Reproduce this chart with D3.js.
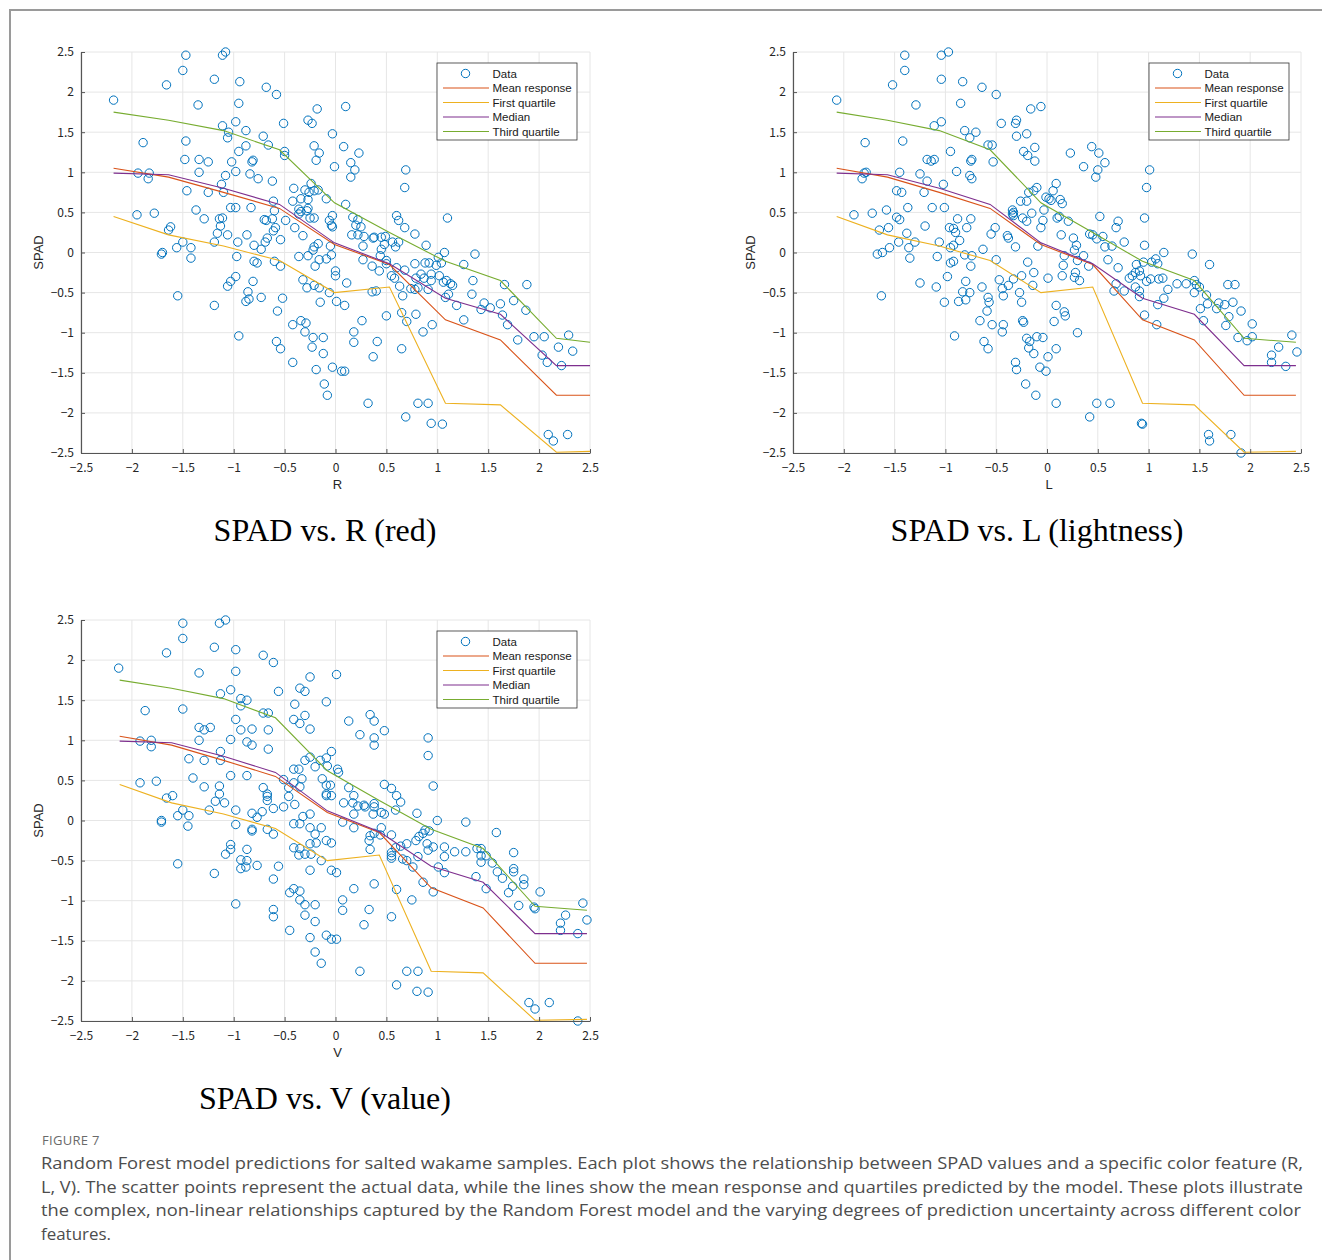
<!DOCTYPE html>
<html>
<head>
<meta charset="utf-8">
<script src="https://cdn.jsdelivr.net/npm/d3@7"></script>
<style>
  html, body { margin: 0; padding: 0; background: #fff; }
  svg { display: block; }
</style>
</head>
<body>
<script>
// ---- data ----
const ticks = [-2.5, -2, -1.5, -1, -0.5, 0, 0.5, 1, 1.5, 2, 2.5]
const seriesNames = ['Mean response', 'First quartile', 'Median', 'Third quartile']
const seriesColors = ['#D95319', '#EDB120', '#7E2F8E', '#77AC30']

// model curves, same response values in all three plots
const meanResponse = [1.05, 0.94, 0.75, 0.55, 0.10, -0.15, -0.84, -1.09, -1.78, -1.78]
const firstQuartile = [0.45, 0.22, 0.08, -0.10, -0.50, -0.43, -1.88, -1.90, -2.49, -2.48]
const median = [0.99, 0.97, 0.80, 0.60, 0.12, -0.14, -0.57, -0.77, -1.41, -1.41]
const thirdQuartile = [1.75, 1.65, 1.52, 1.28, 0.62, 0.25, -0.11, -0.35, -1.07, -1.12]

// x positions of the curve points in each plot
const rGrid = [-2.18, -1.64, -1.10, -0.55, -0.01, 0.53, 1.08, 1.62, 2.17, 2.5]
const lGrid = [-2.07, -1.57, -1.06, -0.56, -0.06, 0.45, 0.94, 1.45, 1.94, 2.45]
const vGrid = [-2.12, -1.61, -1.10, -0.59, -0.08, 0.43, 0.94, 1.45, 1.96, 2.47]

// scatter data [x, SPAD]
const rPoints = [
  [-2.18,1.90],[-1.47,2.46],[-1.11,2.46],[-1.08,2.50],[-1.50,2.27],[-1.66,2.09],[-1.19,2.16],[-0.94,2.13],[-0.68,2.06],[-0.58,1.97],
  [-1.35,1.84],[-0.95,1.86],[-0.18,1.79],[-0.27,1.65],[-0.23,1.61],[-0.51,1.61],[-1.11,1.58],[-0.98,1.63],[-1.05,1.50],[-1.06,1.43],
  [-0.88,1.52],[-0.71,1.45],[-0.66,1.34],[-0.50,1.26],[-0.50,1.21],[-0.03,1.48],[-0.21,1.33],[-0.16,1.24],[-0.19,1.15],[-0.01,1.07],
  [-1.89,1.37],[-1.47,1.39],[-1.48,1.16],[-1.34,1.16],[-1.25,1.13],[-1.34,1.00],[-1.02,1.13],[-0.98,1.01],[-0.95,1.26],[-0.88,1.33],
  [-0.82,1.13],[-0.81,1.15],[-0.84,0.98],[-0.76,0.92],[-0.62,0.89],[-1.08,0.96],[-1.12,0.85],[-1.10,0.75],[-1.94,0.99],[-1.83,0.99],
  [-1.84,0.92],[-1.46,0.77],[-1.25,0.75],[-1.37,0.53],[-1.29,0.42],[-1.95,0.47],[-1.78,0.49],[-1.64,0.28],[-1.62,0.32],[-1.71,-0.02],
  [-1.70,0.00],[-1.56,0.06],[-1.50,0.13],[-1.42,0.06],[-1.42,-0.07],[-1.55,-0.54],[-1.14,0.42],[-1.11,0.43],[-1.13,0.33],[-1.16,0.24],
  [-1.19,0.13],[-1.06,0.22],[-1.03,0.56],[-0.98,0.56],[-0.83,0.56],[-0.61,0.64],[-0.60,0.52],[-0.62,0.42],[-0.68,0.40],[-0.70,0.41],
  [-0.59,0.31],[-0.61,0.27],[-0.67,0.18],[-0.69,0.13],[-0.54,0.16],[-0.49,0.40],[-0.87,0.22],[-0.96,0.13],[-0.80,0.09],[-0.73,0.04],
  [-0.97,-0.05],[-0.80,-0.11],[-0.77,-0.13],[-0.60,-0.11],[-0.54,-0.17],[-0.98,-0.30],[-1.03,-0.36],[-1.06,-0.42],[-0.81,-0.36],[-0.86,-0.49],
  [-0.85,-0.58],[-0.88,-0.61],[-0.73,-0.56],[-0.52,-0.57],[-1.19,-0.66],[-0.95,-1.04],[-0.57,-0.73],[-0.42,-0.90],[-0.34,-0.85],[-0.29,-0.88],
  [-0.30,-0.99],[-0.22,-1.06],[-0.23,-1.18],[-0.12,-1.06],[-0.12,-1.26],[-0.58,-1.11],[-0.54,-1.20],[-0.42,-1.37],[-0.19,-1.46],[-0.03,-1.43],
  [-0.11,-1.64],[-0.08,-1.78],[-0.41,0.80],[-0.30,0.78],[-0.26,0.75],[-0.27,0.66],[-0.34,0.67],[-0.24,0.86],[-0.21,0.77],[-0.17,0.78],
  [-0.42,0.64],[-0.36,0.54],[-0.34,0.51],[-0.36,0.48],[-0.27,0.55],[-0.28,0.52],[-0.25,0.43],[-0.21,0.43],[-0.09,0.67],[-0.06,0.40],
  [-0.03,0.46],[-0.03,0.32],[-0.04,0.34],[-0.40,0.31],[-0.32,0.21],[-0.21,0.07],[-0.17,0.11],[-0.22,0.03],[-0.20,-0.17],[-0.16,-0.09],
  [-0.09,-0.08],[-0.04,-0.03],[-0.36,-0.05],[-0.27,-0.04],[-0.05,0.08],[-0.32,-0.34],[-0.28,-0.44],[-0.21,-0.41],[-0.16,-0.44],[-0.06,-0.50],
  [-0.15,-0.62],[0.00,-0.23],[0.00,-0.29],[0.01,-0.61],
  [0.10,1.82],[0.08,1.32],[0.15,1.12],[0.19,1.03],[0.15,0.94],[0.23,1.24],[0.10,0.60],[0.69,1.03],[0.68,0.81],[1.10,0.43],
  [0.60,0.46],[0.62,0.40],[0.68,0.31],[0.78,0.23],[0.89,0.09],[1.01,-0.06],[1.07,0.00],[1.04,-0.13],[1.26,-0.15],[1.37,-0.02],
  [1.35,-0.35],[1.34,-0.52],[1.66,-0.40],[1.88,-0.40],[1.75,-0.60],[1.64,-0.78],[1.69,-0.90],[1.87,-0.72],[1.79,-1.09],[1.95,-1.05],
  [2.05,-1.05],[2.19,-1.18],[2.29,-1.03],[2.33,-1.23],[2.03,-1.28],[2.08,-1.37],[2.22,-1.41],[1.46,-0.63],[1.52,-0.69],[1.43,-0.71],
  [1.62,-0.64],[1.19,-0.66],[1.26,-0.84],[2.09,-2.27],[2.14,-2.35],[2.28,-2.27],[0.32,-1.88],[0.81,-1.88],[0.91,-1.88],[0.69,-2.05],
  [0.94,-2.13],[1.05,-2.14],[0.06,-1.48],[0.09,-1.48],[0.37,-1.30],[0.26,-0.85],[0.18,-0.99],[0.18,-1.12],[0.41,-1.11],[0.65,-1.20],
  [0.50,-0.79],[0.65,-0.75],[0.70,-0.86],[0.79,-0.77],[0.86,-0.99],[0.95,-0.90],[0.17,0.44],[0.22,0.41],[0.20,0.34],[0.25,0.32],
  [0.16,0.22],[0.22,0.22],[0.28,0.20],[0.27,0.08],[0.37,0.18],[0.38,0.19],[0.45,0.19],[0.49,0.20],[0.45,0.04],[0.48,0.10],
  [0.44,-0.04],[0.50,-0.10],[0.43,-0.23],[0.56,0.13],[0.59,0.07],[0.62,0.13],[0.27,-0.09],[0.36,-0.17],[0.11,-0.38],[0.09,-0.66],
  [0.50,-0.14],[0.55,-0.29],[0.58,-0.32],[0.63,-0.42],[0.66,-0.54],[0.68,-0.22],[0.78,-0.14],[0.79,-0.32],[0.74,-0.45],[0.78,-0.46],
  [0.81,-0.44],[0.88,-0.13],[0.92,-0.13],[0.94,-0.27],[0.99,-0.16],[0.94,-0.35],[0.91,-0.46],[1.02,-0.29],[1.06,-0.37],[1.09,-0.35],
  [1.13,-0.39],[1.15,-0.41],[1.08,-0.56],[1.11,-0.52],[0.84,-0.27],[0.87,-0.32],[0.60,-0.19],[0.36,-0.49],[0.40,-0.48]
]

const lPoints = [
  [-2.07,1.90],[-1.40,2.46],[-1.40,2.27],[-1.04,2.46],[-0.97,2.50],[-1.52,2.09],[-1.04,2.16],[-0.83,2.13],[-0.64,2.06],[-0.50,1.97],
  [-1.29,1.84],[-0.85,1.86],[-0.16,1.79],[-0.06,1.82],[-0.31,1.61],[-0.30,1.65],[-0.45,1.61],[-1.04,1.63],[-1.11,1.58],[-0.81,1.52],
  [-0.70,1.50],[-0.76,1.43],[-0.58,1.34],[-0.54,1.34],[-0.53,1.13],[-0.30,1.45],[-0.20,1.48],[-0.23,1.26],[-0.19,1.21],[-0.12,1.31],
  [-0.12,1.14],[-0.95,1.26],[-0.75,1.14],[-0.74,1.16],[-0.76,0.96],[-0.74,0.92],[-0.89,1.01],[-1.79,1.37],[-1.42,1.39],[-1.18,1.16],
  [-1.14,1.14],[-1.11,1.16],[-1.25,0.98],[-1.02,0.85],[-1.18,0.89],[-1.78,1.00],[-1.80,0.99],[-1.82,0.92],[-1.45,1.00],[-1.48,0.77],
  [-1.43,0.75],[-1.21,0.75],[-1.37,0.56],[-1.13,0.56],[-1.01,0.56],[-1.58,0.53],[-1.90,0.47],[-1.72,0.49],[-1.48,0.44],[-1.45,0.41],
  [-1.65,0.28],[-1.56,0.31],[-1.67,-0.02],[-1.62,0.00],[-1.55,0.06],[-1.46,0.13],[-1.36,0.06],[-1.35,-0.07],[-1.38,0.24],[-1.30,0.13],
  [-1.20,0.33],[-1.63,-0.54],[-1.25,-0.38],[-1.09,-0.43],[-1.08,-0.05],[-1.06,0.13],[-1.01,-0.62],[-0.96,0.31],[-0.92,0.30],[-0.90,0.25],
  [-0.86,0.15],[-0.88,0.42],[-0.95,0.06],[-0.92,0.09],[-0.95,-0.13],[-0.92,-0.11],[-0.98,-0.30],[-0.79,0.31],[-0.75,0.42],[-0.81,-0.03],
  [-0.74,-0.04],[-0.75,-0.17],[-0.80,-0.36],[-0.83,-0.49],[-0.76,-0.50],[-0.80,-0.59],[-0.87,-0.61],[-0.63,0.04],[-0.64,-0.43],[-0.58,-0.56],
  [-0.57,-0.62],[-0.59,-0.73],[-0.66,-0.85],[-0.91,-1.04],[-0.54,-0.90],[-0.43,-0.90],[-0.44,-0.99],[-0.62,-1.11],[-0.58,-1.20],[-0.55,0.23],
  [-0.51,0.31],[-0.50,-0.09],[-0.47,-0.34],[-0.43,-0.54],[-0.44,-0.45],[-0.39,0.21],[-0.38,0.18],[-0.31,0.07],[-0.38,-0.41],[-0.33,-0.33],
  [-0.27,-0.50],[-0.25,-0.62],[-0.25,-0.29],[-0.19,-0.12],[-0.13,-0.25],[-0.14,-0.41],[-0.24,-0.85],[-0.23,-0.87],[-0.20,-1.07],[-0.17,-1.11],
  [-0.18,-1.19],[-0.10,-1.05],[-0.13,-1.26],[-0.31,-1.37],[-0.30,-1.46],[-0.21,-1.64],[-0.11,-1.78],[-0.07,-1.43],[-0.01,-1.48],[0.01,-1.30],
  [-0.34,0.53],[-0.33,0.50],[-0.33,0.46],[-0.34,0.48],[-0.26,0.64],[-0.20,0.64],[-0.18,0.75],[-0.13,0.77],[-0.10,0.81],[-0.24,0.43],
  [-0.20,0.39],[-0.15,0.49],[-0.06,0.31],[-0.04,0.40],[-0.03,0.53],[-0.01,0.69],[-0.09,0.08],[0.01,-0.32],
  [0.23,1.24],[0.36,1.07],[0.44,1.32],[0.51,1.24],[0.57,1.12],[0.50,1.03],[0.48,0.94],[1.01,1.03],[0.98,0.81],[0.09,0.86],
  [0.06,0.77],[0.02,0.67],[0.13,0.66],[0.15,0.61],[0.04,0.65],[0.10,0.43],[0.12,0.45],[0.14,0.22],[0.21,0.39],[0.52,0.45],
  [0.68,0.31],[0.70,0.39],[0.76,0.13],[0.96,0.43],[0.96,0.09],[0.26,0.18],[0.29,0.09],[0.27,0.03],[0.36,-0.04],[0.30,-0.10],
  [0.42,0.23],[0.45,0.22],[0.49,0.17],[0.55,0.20],[0.57,0.07],[0.64,0.08],[0.17,-0.04],[0.15,-0.29],[0.27,-0.31],[0.32,-0.35],
  [0.28,-0.25],[0.16,-0.16],[0.41,-0.17],[0.60,-0.09],[0.70,-0.19],[0.68,-0.39],[0.66,-0.48],[0.76,-0.48],[0.81,-0.32],[0.84,-0.29],
  [0.87,-0.25],[0.91,-0.23],[0.92,-0.29],[0.87,-0.43],[0.91,-0.48],[0.91,-0.55],[0.98,-0.36],[0.88,-0.15],[0.95,-0.12],[1.03,-0.12],
  [1.07,-0.08],[1.09,-0.14],[1.15,0.00],[1.02,-0.33],[1.10,-0.33],[1.14,-0.32],[1.09,-0.65],[1.15,-0.57],[1.19,-0.46],[0.96,-0.78],
  [1.08,-0.90],[1.43,-0.02],[1.60,-0.15],[1.28,-0.39],[1.37,-0.39],[1.45,-0.35],[1.47,-0.40],[1.45,-0.50],[1.50,-0.43],[1.57,-0.53],
  [1.51,-0.70],[1.54,-0.85],[1.58,-0.64],[1.67,-0.70],[1.69,-0.63],[1.75,-0.65],[1.78,-0.40],[1.85,-0.40],[1.83,-0.62],[1.76,-0.91],
  [1.79,-0.80],[1.91,-0.73],[1.88,-1.06],[1.97,-1.10],[2.02,-1.05],[2.02,-0.89],[2.21,-1.28],[2.21,-1.37],[2.28,-1.18],[2.35,-1.42],
  [2.41,-1.03],[2.46,-1.24],[0.09,-1.88],[0.49,-1.88],[0.62,-1.88],[0.42,-2.05],[0.93,-2.13],[0.94,-2.14],[1.59,-2.27],[1.60,-2.35],
  [1.81,-2.27],[1.91,-2.50],[0.09,-1.20],[-0.04,-1.06],[0.09,-0.66],[0.17,-0.74],[0.18,-0.79],[0.30,-1.00],[0.07,-0.86]
]

const vPoints = [
  [-2.13,1.90],[-1.50,2.46],[-1.50,2.27],[-1.14,2.46],[-1.08,2.50],[-1.66,2.09],[-1.19,2.16],[-0.98,2.13],[-0.71,2.06],[-0.61,1.97],
  [-1.34,1.84],[-0.98,1.86],[-0.25,1.79],[-0.35,1.65],[-0.30,1.61],[-0.56,1.61],[-1.03,1.63],[-1.13,1.58],[-0.93,1.52],[-0.87,1.50],
  [-0.93,1.43],[-0.71,1.34],[-0.66,1.34],[-0.40,1.45],[-0.30,1.31],[-0.41,1.26],[-0.35,1.21],[-0.25,1.14],[-0.09,1.48],[0.01,1.82],
  [-0.98,1.26],[-0.66,1.13],[-0.66,0.89],[-0.93,1.13],[-0.82,1.14],[-0.87,0.98],[-0.82,0.94],[-1.87,1.37],[-1.50,1.39],[-1.34,1.16],
  [-1.29,1.13],[-1.23,1.16],[-1.34,1.00],[-1.03,1.01],[-1.13,0.86],[-1.13,0.75],[-1.92,0.99],[-1.81,1.00],[-1.81,0.92],[-1.44,0.77],
  [-1.29,0.75],[-0.87,0.56],[-1.03,0.56],[-1.40,0.53],[-1.92,0.47],[-1.76,0.49],[-1.29,0.42],[-1.14,0.43],[-1.14,0.33],[-1.18,0.24],
  [-1.09,0.22],[-1.66,0.28],[-1.60,0.31],[-1.71,-0.02],[-1.71,0.00],[-1.55,0.06],[-1.50,0.13],[-1.44,0.06],[-1.45,-0.07],[-1.24,0.13],
  [-1.55,-0.54],[-0.98,0.13],[-0.98,-0.05],[-1.03,-0.30],[-1.03,-0.36],[-1.08,-0.42],[-0.93,-0.49],[-0.87,-0.50],[-0.93,-0.60],[-0.88,-0.58],
  [-0.77,-0.56],[-1.19,-0.66],[-0.98,-1.04],[-0.87,-0.36],[-0.82,0.09],[-0.77,0.04],[-0.82,-0.11],[-0.82,-0.13],[-0.71,0.41],[-0.67,0.33],
  [-0.67,0.30],[-0.67,0.25],[-0.61,0.15],[-0.67,-0.11],[-0.61,-0.17],[-0.72,0.11],[-0.56,-0.57],[-0.61,-0.73],[-0.51,0.17],[-0.46,0.30],
  [-0.40,0.20],[-0.51,0.51],[-0.46,0.41],[-0.41,0.64],[-0.36,0.64],[-0.35,0.42],[-0.33,0.52],[-0.41,0.47],[-0.41,-0.04],[-0.35,-0.04],
  [-0.32,0.05],[-0.25,0.08],[-0.30,0.75],[-0.25,0.79],[-0.20,0.67],[-0.15,0.75],[-0.09,0.78],[-0.08,0.68],[-0.04,0.86],[-0.13,0.52],
  [-0.09,0.44],[-0.05,0.44],[-0.09,0.33],[-0.09,0.31],[-0.04,0.31],[-0.25,-0.09],[-0.20,-0.17],[-0.14,-0.09],[-0.25,-0.29],[-0.19,-0.28],
  [-0.09,-0.25],[-0.04,-0.28],[-0.41,-0.34],[-0.35,-0.35],[-0.36,-0.43],[-0.30,-0.42],[-0.24,-0.42],[-0.14,-0.50],[-0.25,-0.62],[-0.04,-0.62],
  [0.01,-0.65],[-0.45,-0.90],[-0.41,-0.85],[-0.35,-0.88],[-0.35,-0.99],[-0.30,-1.05],[-0.20,-1.05],[-0.30,-1.18],[-0.20,-1.26],[-0.45,-1.37],
  [-0.25,-1.46],[-0.09,-1.43],[-0.04,-1.48],[0.01,-1.48],[-0.20,-1.64],[-0.14,-1.78],[-0.61,-1.11],[-0.61,-1.20],
  [0.13,1.24],[0.34,1.32],[0.38,1.24],[0.48,1.12],[0.24,1.07],[0.38,1.03],[0.38,0.94],[0.91,1.03],[0.91,0.81],[0.02,0.64],
  [0.03,0.60],[0.96,0.43],[0.48,0.45],[0.55,0.40],[0.60,0.31],[0.64,0.23],[0.59,0.13],[0.80,0.09],[0.13,0.41],[0.18,0.31],
  [0.08,0.22],[0.17,0.22],[0.22,0.18],[0.28,0.19],[0.29,0.17],[0.38,0.21],[0.38,0.17],[0.37,0.08],[0.45,0.10],[0.48,0.08],
  [0.18,0.08],[0.18,-0.09],[0.07,-0.02],[0.45,-0.09],[0.44,-0.18],[0.55,-0.18],[0.34,-0.19],[0.33,-0.25],[0.34,-0.36],[0.38,-0.16],
  [0.55,-0.40],[0.55,-0.44],[0.55,-0.47],[0.59,-0.34],[0.64,-0.32],[0.70,-0.29],[0.66,-0.48],[0.70,-0.50],[0.76,-0.58],[0.81,-0.45],
  [0.79,-0.25],[0.82,-0.20],[0.86,-0.16],[0.88,-0.12],[0.92,-0.13],[0.90,-0.29],[0.91,-0.37],[0.96,-0.33],[1.00,0.00],[0.86,-0.77],
  [0.96,-0.89],[1.01,-0.58],[1.07,-0.33],[1.07,-0.45],[1.07,-0.65],[1.17,-0.39],[1.28,-0.02],[1.28,-0.39],[1.39,-0.35],[1.43,-0.35],
  [1.43,-0.44],[1.48,-0.44],[1.43,-0.52],[1.38,-0.70],[1.48,-0.85],[1.54,-0.53],[1.58,-0.15],[1.59,-0.64],[1.64,-0.72],[1.70,-0.90],
  [1.75,-0.40],[1.75,-0.60],[1.75,-0.64],[1.74,-0.82],[1.80,-1.06],[1.85,-0.73],[1.85,-0.80],[1.95,-1.08],[1.96,-1.10],[2.01,-0.89],
  [2.21,-1.28],[2.21,-1.37],[2.26,-1.18],[2.38,-1.41],[2.43,-1.03],[2.47,-1.24],[0.24,-1.88],[0.70,-1.88],[0.81,-1.88],[0.60,-2.05],
  [0.80,-2.13],[0.91,-2.14],[1.90,-2.27],[1.96,-2.35],[2.10,-2.27],[2.38,-2.50],[0.55,-1.20],[0.75,-0.99],[0.60,-0.86],[0.38,-0.79],
  [0.18,-0.85],[0.07,-0.99],[0.07,-1.12],[0.33,-1.11],[0.28,-1.30]
]

const captionLines = [
  'Random Forest model predictions for salted wakame samples. Each plot shows the relationship between SPAD values and a specific color feature (R,',
  'L, V). The scatter points represent the actual data, while the lines show the mean response and quartiles predicted by the model. These plots illustrate',
  'the complex, non-linear relationships captured by the Random Forest model and the varying degrees of prediction uncertainty across different color',
  'features.'
]

// ---- layout ----
const W = 1322, H = 1260
const panels = [
  { left: 81, top: 52, w: 509, h: 401, grid: rGrid, points: rPoints, xLabel: 'R', title: 'SPAD vs. R (red)', tx: 325, ty: 541 },
  { left: 793, top: 52, w: 508, h: 401, grid: lGrid, points: lPoints, xLabel: 'L', title: 'SPAD vs. L (lightness)', tx: 1037, ty: 541 },
  { left: 81, top: 620, w: 509, h: 401, grid: vGrid, points: vPoints, xLabel: 'V', title: 'SPAD vs. V (value)', tx: 325, ty: 1109 }
]
const curves = [meanResponse, firstQuartile, median, thirdQuartile]
const tickFont = '"Noto Sans CJK JP", "Noto Sans", sans-serif'
const fmt = d3.format('~g')

const svg = d3.select('body').append('svg')
  .attr('width', W)
  .attr('height', H)

svg.append('rect').attr('width', W).attr('height', H).attr('fill', '#fff')

// figure frame (top and left edges visible)
svg.append('path')
  .attr('d', `M10,${H} L10,10 L${W},10`)
  .attr('fill', 'none')
  .attr('stroke', '#9a9a9a')
  .attr('stroke-width', 2)

panels.forEach((p, pi) => {
  const x = d3.scaleLinear().domain([-2.5, 2.5]).range([0, p.w])
  const y = d3.scaleLinear().domain([-2.5, 2.5]).range([p.h, 0])
  const g = svg.append('g').attr('transform', `translate(${p.left},${p.top})`)

  // grid
  g.append('g').selectAll('line').data(ticks).join('line')
    .attr('x1', d => x(d)).attr('x2', d => x(d))
    .attr('y1', 0).attr('y2', p.h)
    .attr('stroke', '#e6e6e6').attr('stroke-width', 1)
  g.append('g').selectAll('line').data(ticks).join('line')
    .attr('y1', d => y(d)).attr('y2', d => y(d))
    .attr('x1', 0).attr('x2', p.w)
    .attr('stroke', '#e6e6e6').attr('stroke-width', 1)

  const clipId = 'clip' + pi
  g.append('clipPath').attr('id', clipId)
    .append('rect').attr('x', -1).attr('y', -1).attr('width', p.w + 2).attr('height', p.h + 2)

  // scatter
  g.append('g').selectAll('circle').data(p.points).join('circle')
    .attr('cx', d => x(d[0]))
    .attr('cy', d => y(d[1]))
    .attr('r', 4.2)
    .attr('fill', 'none')
    .attr('stroke', '#0072BD')
    .attr('stroke-width', 1)

  // model curves
  const line = d3.line().x((d, i) => x(p.grid[i])).y(d => y(d))
  g.append('g').attr('clip-path', `url(#${clipId})`)
    .selectAll('path').data(curves).join('path')
    .attr('d', d => line(d))
    .attr('fill', 'none')
    .attr('stroke', (d, i) => seriesColors[i])
    .attr('stroke-width', 1.1)

  // axes
  const ax = g.append('g').attr('transform', `translate(0,${p.h})`)
    .call(d3.axisBottom(x).tickValues(ticks).tickFormat(fmt).tickSizeInner(-4).tickSizeOuter(0).tickPadding(10))
  const ay = g.append('g')
    .call(d3.axisLeft(y).tickValues(ticks).tickFormat(fmt).tickSizeInner(-4).tickSizeOuter(0).tickPadding(7))
  ;[ax, ay].forEach(a => {
    a.select('.domain').attr('stroke', '#555').attr('stroke-width', 1.2)
    a.selectAll('.tick line').attr('stroke', '#555')
    a.selectAll('.tick text')
      .attr('fill', '#262626')
      .style('font-family', tickFont)
      .style('font-size', '12px')
  })

  g.append('text')
    .attr('x', p.w / 2 + 2).attr('y', p.h + 36)
    .attr('text-anchor', 'middle')
    .style('font-family', 'Liberation Sans, Arial, sans-serif')
    .style('font-size', '13px')
    .attr('fill', '#262626')
    .text(p.xLabel)

  g.append('text')
    .attr('transform', `translate(${-38},${p.h / 2}) rotate(-90)`)
    .attr('text-anchor', 'middle')
    .style('font-family', 'Liberation Sans, Arial, sans-serif')
    .style('font-size', '13px')
    .attr('fill', '#262626')
    .text('SPAD')

  // legend
  const lg = g.append('g').attr('transform', 'translate(356,11)')
  lg.append('rect')
    .attr('width', 140).attr('height', 77)
    .attr('fill', '#fff').attr('stroke', '#333').attr('stroke-width', 0.8)
  const rows = ['Data'].concat(seriesNames)
  rows.forEach((name, i) => {
    const ry = 10.5 + i * 14.5
    if (i === 0) {
      lg.append('circle').attr('cx', 28.5).attr('cy', ry).attr('r', 4.2)
        .attr('fill', 'none').attr('stroke', '#0072BD').attr('stroke-width', 1)
    } else {
      lg.append('line').attr('x1', 6).attr('x2', 52).attr('y1', ry).attr('y2', ry)
        .attr('stroke', seriesColors[i - 1]).attr('stroke-width', 1.1)
    }
    lg.append('text')
      .attr('x', 55.5).attr('y', ry + 4)
      .style('font-family', 'Liberation Sans, Arial, sans-serif')
      .style('font-size', '11.5px')
      .attr('fill', '#1a1a1a')
      .text(name)
  })

  // panel title
  svg.append('text')
    .attr('x', p.tx).attr('y', p.ty)
    .attr('text-anchor', 'middle')
    .style('font-family', '"Liberation Serif", "Times New Roman", serif')
    .style('font-size', '32px')
    .attr('fill', '#000')
    .text(p.title)
})

// caption
svg.append('text')
  .attr('x', 42).attr('y', 1145)
  .style('font-family', '"Open Sans", sans-serif')
  .style('font-size', '13px')
  .style('letter-spacing', '0.3px')
  .attr('fill', '#6a6a6a')
  .text('FIGURE 7')

const capWidths = [1262, 1262, 1260, 70]
svg.append('g').selectAll('text').data(captionLines).join('text')
  .attr('x', 41)
  .attr('y', (d, i) => 1169 + i * 23.7)
  .attr('textLength', (d, i) => capWidths[i])
  .attr('lengthAdjust', 'spacingAndGlyphs')
  .style('font-family', '"Open Sans", sans-serif')
  .style('font-size', '17px')
  .attr('fill', '#4d4d4d')
  .text(d => d)
</script>
</body>
</html>
